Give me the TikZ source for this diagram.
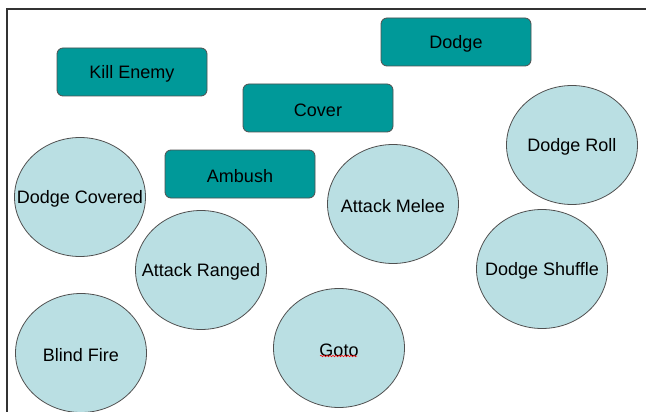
\documentclass[tikz,border=0pt]{standalone}
\usepackage{fontspec}
\setmainfont{Liberation Sans}
\usetikzlibrary{shapes.geometric,decorations.pathmorphing}
\definecolor{taskfill}{HTML}{009999}
\definecolor{actfill}{HTML}{BADFE3}
\definecolor{edge}{HTML}{505050}
\newcommand{\lblfont}{\fontsize{18}{20}\selectfont}
\tikzset{
  px/.style={x=1pt,y=-1pt},
  taskbox/.style={draw=edge,line width=0.8pt,fill=taskfill,rounded corners=6pt,
    minimum width=150pt,minimum height=48pt,inner sep=0pt,
    label={[font=\lblfont,yshift=-2pt]center:#1}},
  actoval/.style={ellipse,draw=edge,line width=0.8pt,fill=actfill,inner sep=0pt,
    minimum width=131pt,minimum height=119pt,
    label={[font=\lblfont,yshift=-2pt]center:#1}},
  frameline/.style={draw=black!80,line width=1.2pt},
}
\begin{document}
\begin{tikzpicture}[px]
\useasboundingbox (0,0) rectangle (646,412);
\fill[white] (0,0) rectangle (646,412);
% page frame
\coordinate (fbl) at (7,412);
\coordinate (ftl) at (7,9);
\coordinate (ftr) at (646,9);
\draw[frameline] (fbl) -- (ftl) -- (ftr);
% tasks
\node[taskbox=Dodge] (dodge) at (456,42) {};
\node[taskbox=Kill Enemy] (kill) at (132,72) {};
\node[taskbox=Cover] (cover) at (318,108) {};
\node[taskbox=Ambush] (ambush) at (240,174) {};
% actions
\node[actoval=Dodge Roll] (roll) at (572,145) {};
\node[actoval=Dodge Covered] (dcov) at (80,197) {};
\node[actoval=Attack Melee] (melee) at (393,204) {};
\node[actoval=Attack Ranged] (ranged) at (201,270) {};
\node[actoval=Dodge Shuffle] (shuffle) at (542,269) {};
\node[actoval=Blind Fire] (blind) at (81,353) {};
\node[actoval=Goto] (goto) at (339,348) {};
% spelling squiggle under the Goto label
\coordinate (sqa) at (320,356);
\coordinate (sqb) at (357,356);
\draw[red,line width=0.5pt,decorate,decoration={snake,amplitude=0.8pt,segment length=3pt}] (sqa) -- (sqb);
\end{tikzpicture}
\end{document}
